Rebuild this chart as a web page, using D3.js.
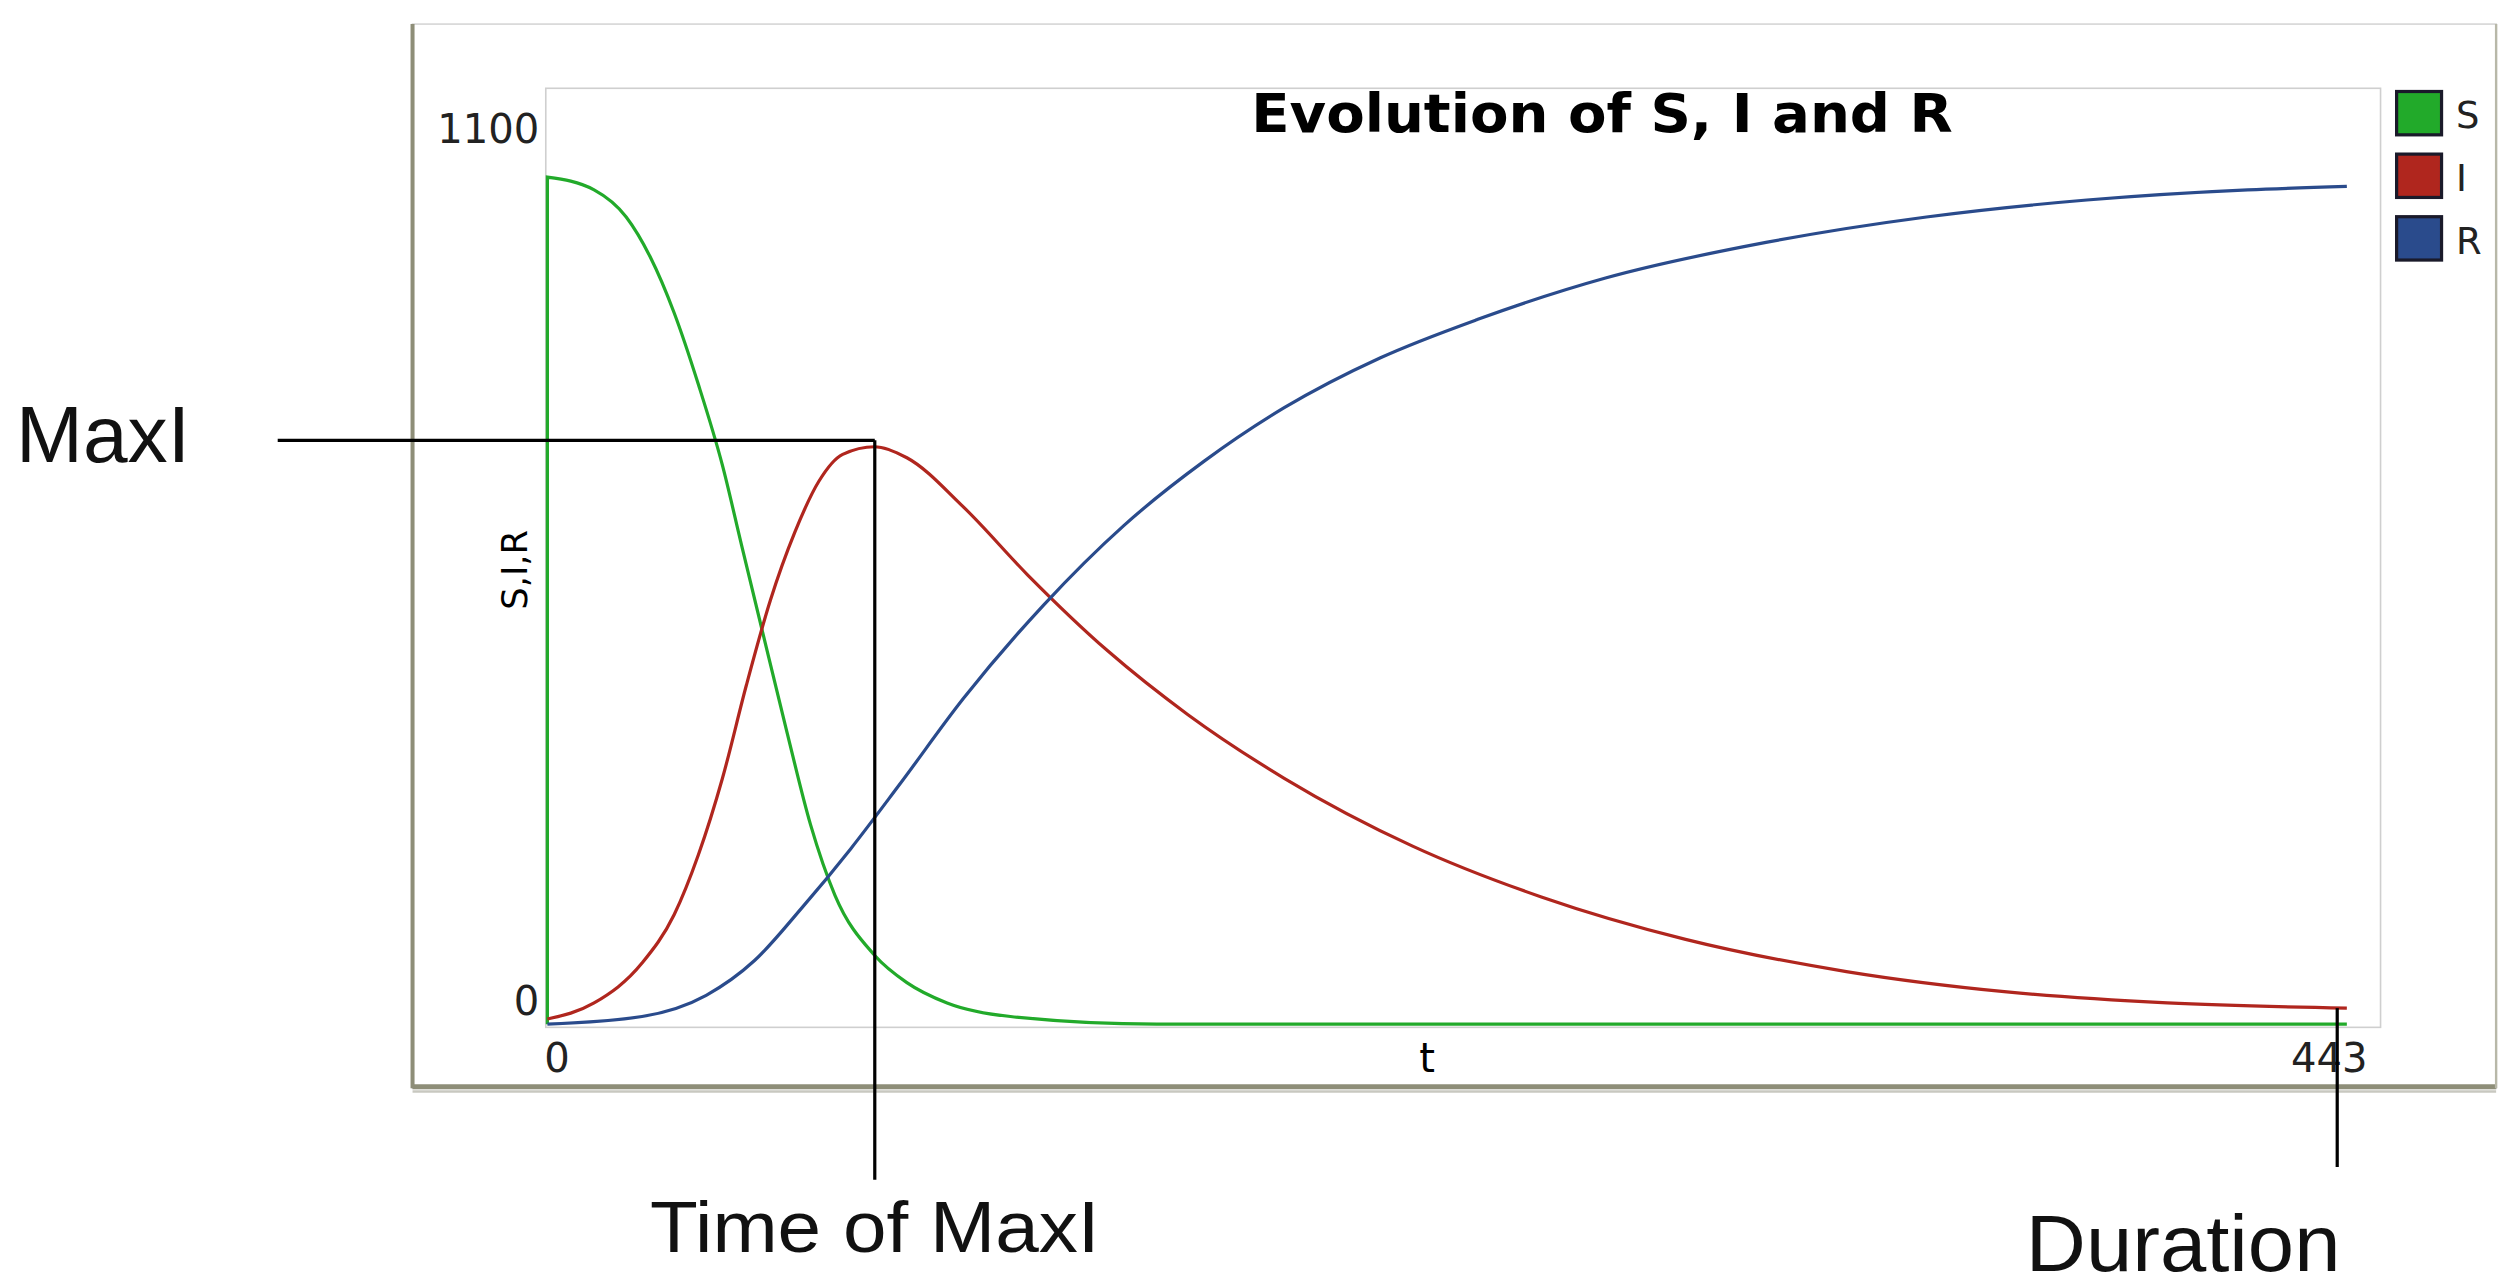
<!DOCTYPE html>
<html>
<head>
<meta charset="utf-8">
<script src="https://cdn.jsdelivr.net/npm/d3@7"></script>
<style>
  body { margin: 0; background: #fff; }
  svg { display: block; }
</style>
</head>
<body>
<script>
// values
var tS = [0, 0, 11.5, 19.4, 25.3, 31.2, 37.2, 43.1, 47.8, 53, 58.9, 64.8, 70.8, 80.6, 88.5, 98.4, 114, 150, 443];
var vS = [0, 999, 984, 952, 905, 839, 754, 659, 565, 462, 346, 235, 152, 81, 49, 25, 9, 0, 0];

var tI = [0, 11.5, 23.3, 31.2, 37.2, 43.1, 49, 54.9, 60.9, 66.8, 72.7, 80.6, 88.5, 102.4, 118.2, 138, 157.7, 181.4, 213, 244.7, 280.2, 319.8, 359.3, 398.8, 443];
var vI = [6, 25, 72, 129, 200, 290, 400, 500, 580, 640, 672, 681, 668, 610, 530, 440, 365, 290, 210, 150, 100, 62, 38, 25, 19];

var tR = [0, 23.3, 39.1, 51, 62.8, 74.7, 86.6, 102.4, 122.1, 141.9, 161.7, 181.4, 205.1, 228.9, 260.5, 300, 339.5, 379, 418.6, 443];
var vR = [0, 9, 34, 75, 138, 207, 282, 384, 494, 588, 664, 727, 786, 831, 880, 922, 952, 972, 984, 988];

var seriesNames = ["S", "I", "R"];
var seriesColors = ["#22aa2a", "#b0261e", "#2a4b8c"];
var yTicks = [0, 1100];
var xTicks = [0, 443];
var maxI = 681, timeMaxI = 80.6, duration = 443;

var k = 2517 / 1568;
var W = 2517, H = 1287;

var svg = d3.select("body").append("svg")
    .attr("width", W).attr("height", H);
var g = svg.append("g").attr("transform", "scale(" + k + ")");

// outer panel
g.append("rect").attr("x", 257).attr("y", 15).attr("width", 1298).attr("height", 663)
    .attr("fill", "#fff").attr("stroke", "#d6d6d6").attr("stroke-width", 1);
g.append("line").attr("x1", 257).attr("x2", 1555).attr("y1", 677).attr("y2", 677)
    .attr("stroke", "#8e8e78").attr("stroke-width", 3);
g.append("line").attr("x1", 257).attr("x2", 1555).attr("y1", 680).attr("y2", 680)
    .attr("stroke", "#c8c8c0").attr("stroke-width", 1.5);
g.append("line").attr("x1", 257).attr("x2", 257).attr("y1", 15).attr("y2", 678)
    .attr("stroke", "#8e8e78").attr("stroke-width", 2.5);
g.append("line").attr("x1", 1555).attr("x2", 1555).attr("y1", 15).attr("y2", 678)
    .attr("stroke", "#b8b8a8").attr("stroke-width", 1.5);

var x = d3.scaleLinear().domain([0, 443]).range([341, 1462]);
var y = d3.scaleLinear().domain([0, 1100]).range([638, 57]);

// plot area
g.append("rect").attr("x", 340).attr("y", 55).attr("width", 1143).attr("height", 585)
    .attr("fill", "#fff").attr("stroke", "#cfcfcf").attr("stroke-width", 1);

var font = "DejaVu Sans, sans-serif";

g.append("text").attr("x", 998).attr("y", 82).attr("text-anchor", "middle")
    .attr("font-family", font).attr("font-weight", "bold").attr("font-size", 33)
    .attr("textLength", 437).attr("lengthAdjust", "spacingAndGlyphs")
    .text("Evolution of S, I and R");

// tick labels
g.selectAll(".yt").data(yTicks).enter().append("text")
    .attr("x", 336).attr("y", function (d) { return d === 0 ? 632 : 89; })
    .attr("text-anchor", "end").attr("font-family", font).attr("font-size", 25)
    .attr("fill", "#222").text(function (d) { return d; });
g.selectAll(".xt").data(xTicks).enter().append("text")
    .attr("x", function (d) { return d === 0 ? 347 : 1451; }).attr("y", 668)
    .attr("text-anchor", "middle").attr("font-family", font).attr("font-size", 25)
    .attr("fill", "#222").text(function (d) { return d; });
g.append("text").attr("x", 889).attr("y", 668).attr("text-anchor", "middle")
    .attr("font-family", font).attr("font-size", 25).text("t");
g.append("text").attr("transform", "translate(328,355) rotate(-90)")
    .attr("text-anchor", "middle").attr("font-family", font).attr("font-size", 22)
    .text("S,I,R");

// curves
var series = [d3.zip(tS, vS), d3.zip(tI, vI), d3.zip(tR, vR)];
var line = d3.line().x(function (d) { return x(d[0]); }).y(function (d) { return y(d[1]); })
    .curve(d3.curveMonotoneX);
g.selectAll(".curve").data(series).enter().append("path")
    .attr("fill", "none").attr("stroke-width", 2)
    .attr("stroke", function (d, i) { return seriesColors[i]; })
    .attr("d", function (d, i) {
        return i === 0 ? "M" + x(d[0][0]) + "," + y(d[0][1]) + line(d.slice(1)).replace(/^M/, "L") : line(d);
    });

// legend
var lg = g.selectAll(".lg").data(seriesNames).enter().append("g")
    .attr("transform", function (d, i) { return "translate(1493," + (57 + i * 39) + ")"; });
lg.append("rect").attr("width", 28).attr("height", 27)
    .attr("fill", function (d, i) { return seriesColors[i]; })
    .attr("stroke", "#1a1a2a").attr("stroke-width", 2);
lg.append("text").attr("x", 37).attr("y", 23).attr("font-family", font)
    .attr("font-size", 23).attr("fill", "#222").text(function (d) { return d; });

// annotations
var ann = g.append("g").attr("stroke", "#000").attr("stroke-width", 2);
ann.append("line").attr("x1", 173).attr("x2", x(timeMaxI)).attr("y1", y(maxI) - 4).attr("y2", y(maxI) - 4);
ann.append("line").attr("x1", x(timeMaxI)).attr("x2", x(timeMaxI)).attr("y1", y(maxI) - 4).attr("y2", 735);
ann.append("line").attr("x1", x(duration) - 6).attr("x2", x(duration) - 6).attr("y1", 628).attr("y2", 727);

var af = "Liberation Sans, Arial, sans-serif";
g.append("text").attr("x", 10).attr("y", 288).attr("font-family", af).attr("font-size", 50)
    .attr("fill", "#111").text("MaxI");
g.append("text").attr("x", 405).attr("y", 780).attr("font-family", af).attr("font-size", 45)
    .attr("fill", "#111").attr("textLength", 280).attr("lengthAdjust", "spacingAndGlyphs")
    .text("Time of MaxI");
g.append("text").attr("x", 1262).attr("y", 792).attr("font-family", af).attr("font-size", 50)
    .attr("fill", "#111").attr("textLength", 196).attr("lengthAdjust", "spacingAndGlyphs")
    .text("Duration");
</script>
</body>
</html>
